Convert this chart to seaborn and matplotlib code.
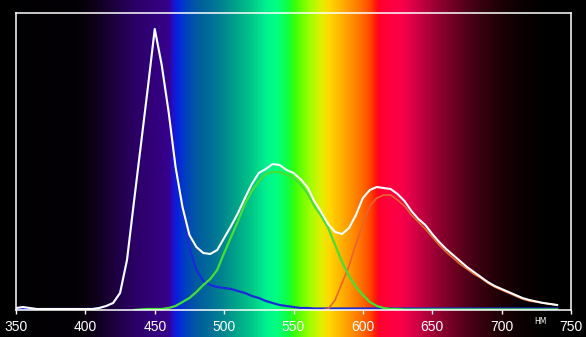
import numpy as np
import pandas as pd
import matplotlib
matplotlib.use("Agg")
import matplotlib.pyplot as plt
import seaborn as sns

# ---------------- data ----------------
wavelength = list(range(350, 745, 5))  # nm

total_white = [2, 3, 2, 1, 1, 1, 1, 1, 1, 1, 1,
               1, 2, 4, 7, 17, 50, 108, 165, 222, 281,
               245, 198, 143, 103, 75, 63, 57, 56, 60, 72,
               84, 97, 112, 126, 137, 141, 146, 145, 140, 137,
               131, 123, 109, 98, 86, 78, 76, 82, 95, 112,
               120, 123, 122, 121, 116, 109, 99, 91, 85, 76,
               68, 61, 55, 49, 43, 38, 33, 28, 24, 21,
               18, 15, 12, 10, 8.5, 7, 6, 5]

blue = [1, 1, 1, 1, 1, 1, 1, 1, 1, 1, 1,
        1, 2, 4, 7, 17, 50, 108, 165, 222, 281,
        248, 200, 145, 100, 62, 40, 29, 25, 23, 22,
        21, 19, 17, 14, 12, 9, 7, 5, 4, 3,
        2, 2, 1.5, 1.5, 1.5, 1.5, 1.5, 1.5, 1.5, 1.5,
        1.5, 1.5, 1.5, 1.5, 1.5, 1.5, 1.5, 1.5, 1.5, 1.5,
        1.5, 1.5, 1.5, 1.5, 1.5, 1.5, 1.5, 1.5, 1.5, 1.5,
        1.5, 1.5, 1.5, 1.5, 1.5, 1.5, 1.5, 1.5]

nan = float("nan")
green = [nan] * 17 + [0] + [0.5, 1, 1, 1, 2, 4, 8, 12, 18, 25, 31, 40, 57, 73, 89,
                            106, 119, 129, 136, 138, 138, 135, 132, 126, 117, 104,
                            94, 82, 65, 48, 34, 23, 15, 8, 4, 2, 1, 1] + [0.5] * 23

red = [nan] * 44 + [0] + [1, 10, 27, 44, 66, 86, 104, 112, 115, 115, 110, 104, 95,
                          88, 81, 73, 65, 58, 52, 46, 41, 36, 32, 27, 23, 20, 17,
                          14, 11, 9, 8, 7, 6, 5]

x_ticks = [350, 400, 450, 500, 550, 600, 650, 700, 750]
unit_label = "НМ"

# spectrum background colour stops (nm, colour)
spec_nm = [330, 395, 400, 410, 420, 430, 440, 450, 460, 463, 466, 472, 480, 490,
           500, 510, 520, 530, 538, 546, 550, 555, 562, 570, 576, 585, 592, 600,
           606, 610, 612, 620, 628, 635, 645, 655, 665, 675, 685, 695, 705, 715,
           725, 735, 770]
spec_col = ["#000000", "#040006", "#08000e", "#120020", "#1c003c", "#260058",
            "#2e006c", "#32007c", "#38008c", "#2010c8", "#0820e0", "#0040c0",
            "#005aa0", "#006e98", "#008890", "#00a888", "#00c888", "#00f090",
            "#00ff80", "#10ff40", "#30ff10", "#60ff00", "#a0ff00", "#e0f000",
            "#ffd800", "#ffb000", "#ff9000", "#ff6800", "#ff4000", "#ff1010",
            "#ff0030", "#ff0040", "#f80048", "#e00048", "#b8003c", "#900030",
            "#700024", "#50001a", "#380010", "#240008", "#160004", "#0c0002",
            "#050000", "#000000", "#000000"]

# ---------------- layout ----------------
W, H = 586, 337
L, R, T, B = 16, 571, 13, 310
xmin, xmax = 350, 750
fig = plt.figure(figsize=(W / 100, H / 100), dpi=100)
fig.patch.set_facecolor("black")

ax = fig.add_axes([L / W, 1 - B / H, (R - L) / W, (B - T) / H])
ax.patch.set_alpha(0)

scale = (R - L) / (xmax - xmin)
bx0 = xmin - L / scale
bx1 = xmax + (W - R) / scale
bg = fig.add_axes([0, 0, 1, 1], zorder=-1)
grid = np.linspace(bx0, bx1, 1400)
rgb_stops = np.array([matplotlib.colors.to_rgb(c) for c in spec_col])
rgb = np.stack([np.interp(grid, spec_nm, rgb_stops[:, i]) for i in range(3)], axis=-1)
bg.imshow(rgb[None, :, :], extent=[bx0, bx1, 0, 1], aspect="auto",
          interpolation="bilinear")
bg.set_xlim(bx0, bx1)
bg.set_ylim(0, 1)
bg.axis("off")

# ---------------- lines ----------------
def draw(vals, color, lw):
    df = pd.DataFrame({"wavelength": wavelength, "intensity": vals}).dropna()
    sns.lineplot(data=df, x="wavelength", y="intensity", color=color, lw=lw,
                 ax=ax, estimator=None, legend=False)

draw(blue, "#1a2ad8", 1.6)
draw(red, "#e8642c", 1.2)
draw(green, "#44e034", 1.6)
draw(total_white, "#ffffff", 1.5)

ax.set_xlim(xmin, xmax)
ax.set_ylim(0, 297)
ax.set_xlabel("")
ax.set_ylabel("")
ax.set_yticks([])
ax.set_xticks(x_ticks)
ax.set_xticklabels([str(t) for t in x_ticks])
for s in ax.spines.values():
    s.set_color("white")
    s.set_linewidth(1.1)
ax.tick_params(axis="x", colors="white", length=3, width=1, pad=4.5, labelsize=10)
for lab in ax.get_xticklabels():
    lab.set_family(["Liberation Sans"])

fig.text(540 / W, 1 - 321 / H, unit_label, color="white", fontsize=5.5,
         ha="center", va="center", family=["DejaVu Sans"])

fig.savefig("out.png", dpi=100, facecolor="black")
